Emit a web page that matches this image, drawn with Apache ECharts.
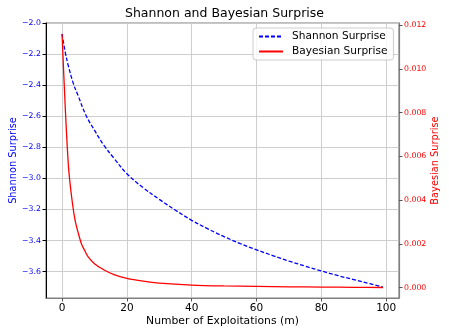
<!DOCTYPE html>
<html>
<head>
<meta charset="utf-8">
<script src="https://cdn.jsdelivr.net/npm/echarts@6/dist/echarts.min.js"></script>
<style>html,body{margin:0;padding:0;background:#fff}#c{width:449px;height:336px}</style>
</head>
<body>
<div id="c"></div>
<script>
var shannonM = [0,1,2,3.5,5,7.3,10,13,16,20,25,30,35,40,45,50,55,60,65,70,75,80,85,90,95,99];
var shannonV = [-2.07,-2.19,-2.28,-2.39,-2.47,-2.59,-2.69,-2.79,-2.87,-2.97,-3.06,-3.135,-3.205,-3.27,-3.325,-3.375,-3.42,-3.46,-3.497,-3.532,-3.565,-3.596,-3.625,-3.652,-3.678,-3.70];
var bayesM = [0,1,2,3,4,5,6,7,8,10,13,16,20,25,30,40,50,60,70,80,90,99];
var bayesV = [0.0116,0.0082,0.0055,0.0041,0.0031,0.0025,0.0020,0.0017,0.00142,0.00110,0.00081,0.00060,0.00043,0.00030,0.00021,0.00012,0.00008,0.00006,0.00004,0.00003,0.00002,0.00001];
var xTicks = [0,20,40,60,80,100];
var leftTicks = [-3.6,-3.4,-3.2,-3.0,-2.8,-2.6,-2.4,-2.2,-2.0];
var rightTicks = [0,0.002,0.004,0.006,0.008,0.010,0.012];

var F = 'DejaVu Sans';
function pairs(a,b){return a.map(function(v,i){return [v,b[i]];});}
var chart = echarts.init(document.getElementById('c'), null, {renderer:'canvas'});
chart.setOption({
  animation:false,
  backgroundColor:'#fff',
  title:{text:'Shannon and Bayesian Surprise',left:'center',top:7,padding:0,
    textStyle:{fontFamily:F,fontSize:12.5,fontWeight:'normal',color:'#000'}},
  legend:{orient:'vertical',left:253,top:28,itemWidth:24,itemHeight:12,itemGap:4,
    padding:[3,6,3,5],borderColor:'#cccccc',borderWidth:1,borderRadius:3,backgroundColor:'rgba(255,255,255,0.8)',
    itemStyle:{opacity:0},
    textStyle:{fontFamily:F,fontSize:10.6,color:'#000',padding:[0,0,0,4]},
    data:['Shannon Surprise','Bayesian Surprise']},
  grid:{left:46,right:50,top:23,bottom:38,show:true,borderColor:'#808080',borderWidth:1.2,
    containLabel:false,outerBoundsMode:'none'},
  xAxis:{type:'value',min:-4.95,max:103.95,
    name:'Number of Exploitations (m)',nameLocation:'middle',nameGap:18,nameMoveOverlap:false,
    nameTextStyle:{fontFamily:F,fontSize:10.8,color:'#000'},
    axisLine:{show:true,onZero:false,lineStyle:{color:'#808080',width:1.2}},
    axisTick:{show:true,length:3.5,customValues:xTicks,lineStyle:{color:'#555'}},
    axisLabel:{customValues:xTicks,fontFamily:F,fontSize:10.5,color:'#000',margin:5},
    splitLine:{show:true,customValues:xTicks,lineStyle:{color:'#c8c8c8',width:0.9}}},
  yAxis:[
    {type:'value',position:'left',min:-3.77,max:-2.0,
      name:'Shannon Surprise',nameLocation:'middle',nameGap:28,nameRotate:90,nameMoveOverlap:false,
      nameTextStyle:{fontFamily:F,fontSize:9.8,color:'#0000ff'},
      axisLine:{show:true,onZero:false,lineStyle:{color:'#000',width:1}},
      axisTick:{show:true,length:3.5,customValues:leftTicks,lineStyle:{color:'#000'}},
      axisLabel:{customValues:leftTicks,fontFamily:F,fontSize:7.8,color:'#0000ff',margin:5,
        formatter:function(v){return v.toFixed(1).replace('-','\u2212');}},
      splitLine:{show:true,customValues:leftTicks,lineStyle:{color:'#c8c8c8',width:0.9}}},
    {type:'value',position:'right',min:-0.00047,max:0.0121,
      name:'Bayesian Surprise',nameLocation:'middle',nameGap:31,nameRotate:90,nameMoveOverlap:false,
      nameTextStyle:{fontFamily:F,fontSize:9.8,color:'#ff0000'},
      axisLine:{show:true,onZero:false,lineStyle:{color:'#808080',width:1.2}},
      axisTick:{show:true,length:3.5,customValues:rightTicks,lineStyle:{color:'#555'}},
      axisLabel:{customValues:rightTicks,fontFamily:F,fontSize:7.8,color:'#ff0000',margin:5,
        formatter:function(v){return v.toFixed(3);}},
      splitLine:{show:false}}
  ],
  series:[
    {name:'Shannon Surprise',type:'line',yAxisIndex:0,data:pairs(shannonM,shannonV),
      showSymbol:false,symbol:'none',smooth:0.4,
      lineStyle:{color:'#0000ff',width:1.3,type:[4,2]},itemStyle:{color:'#0000ff'}},
    {name:'Bayesian Surprise',type:'line',yAxisIndex:1,data:pairs(bayesM,bayesV),
      showSymbol:false,symbol:'none',smooth:0.3,
      lineStyle:{color:'#ff0000',width:1.3},itemStyle:{color:'#ff0000'}}
  ]
});
</script>
</body>
</html>
